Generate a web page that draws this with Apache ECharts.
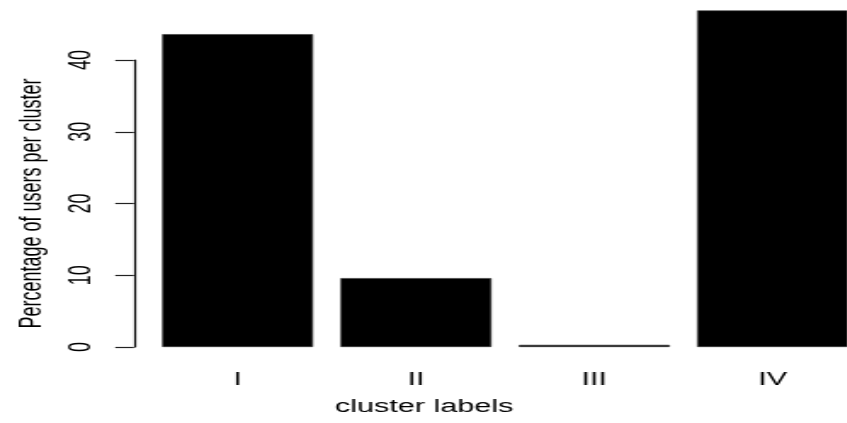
<!DOCTYPE html>
<html>
<head>
<meta charset="utf-8">
<script src="https://cdn.jsdelivr.net/npm/echarts@6/dist/echarts.min.js"></script>
<style>
  html, body { margin: 0; padding: 0; background: #fff; overflow: hidden; }
  /* chart is laid out narrow and stretched horizontally; the right edge runs past the window */
  #chart { width: 520px; height: 423px; transform: scaleX(1.7); transform-origin: 0 0; }
</style>
</head>
<body>
<div id="chart"></div>
<script>
const clusterLabels = ['I', 'II', 'III', 'IV'];
const userPercent = [43.6, 9.6, 0.3, 46.9];
const yTicks = [0, 10, 20, 30, 40];

const textColor = '#000';
const font = 'Liberation Sans, Arial, Helvetica, sans-serif';

const chart = echarts.init(document.getElementById('chart'), null, { renderer: 'canvas' });
chart.setOption({
  animation: false,
  backgroundColor: '#fff',
  title: {
    text: 'cluster labels',
    left: 197,
    top: 398,
    padding: 0,
    textStyle: { fontFamily: font, fontSize: 18, fontWeight: 'normal', color: textColor }
  },
  grid: { left: 87.3, right: 13.1, top: 60, bottom: 76, containLabel: false },
  xAxis: {
    type: 'category',
    data: clusterLabels,
    axisLine: { show: false },
    axisTick: { show: false },
    axisLabel: { margin: 24, fontFamily: font, fontSize: 18, color: textColor }
  },
  yAxis: {
    type: 'value',
    min: yTicks[0],
    max: yTicks[yTicks.length - 1],
    interval: 10,
    offset: 8.5,
    name: 'Percentage of users per cluster',
    nameLocation: 'middle',
    nameGap: 51,
    nameTextStyle: { fontFamily: font, fontSize: 18, color: textColor },
    splitLine: { show: false },
    axisLine: { show: true, lineStyle: { color: '#000', width: 1.2 } },
    axisTick: { show: true, inside: false, length: 11, lineStyle: { color: '#222', width: 1.2 } },
    axisLabel: { rotate: 90, margin: 22, fontFamily: font, fontSize: 18, color: textColor }
  },
  series: [{
    type: 'bar',
    data: userPercent,
    barWidth: 88.8,
    clip: false,
    itemStyle: { color: '#000', borderColor: '#333', borderWidth: 0.6 }
  }]
});
</script>
</body>
</html>
